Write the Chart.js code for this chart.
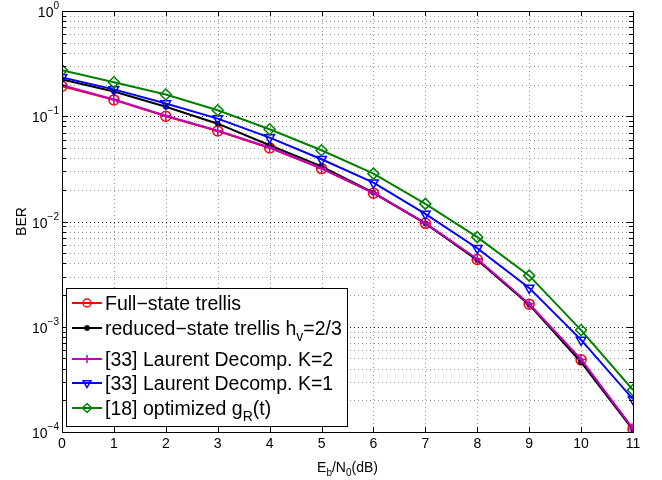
<!DOCTYPE html>
<html>
<head>
<meta charset="utf-8">
<title>BER vs Eb/N0</title>
<script src="https://cdn.jsdelivr.net/npm/chart.js@4.4.1/dist/chart.umd.min.js"></script>
<style>
  html, body { margin: 0; padding: 0; background: #fff; }
  #wrap { width: 662px; height: 480px; }
</style>
</head>
<body>
<div id="wrap"><canvas id="berChart" width="662" height="480"></canvas></div>
<script>
// Eb/N0 in dB
const ebN0 = [0, 1, 2, 3, 4, 5, 6, 7, 8, 9, 10, 11];

const berFullState = [0.193, 0.143, 0.100, 0.0725, 0.050, 0.0318, 0.0186, 0.0096, 0.00435, 0.00164, 0.000485, 0.000107];
const berReduced   = [0.224, 0.172, 0.123, 0.085, 0.053, 0.0334, 0.0188, 0.0096, 0.0043, 0.00162, 0.00046, 0.000105];
const berLaurentK2 = [0.197, 0.144, 0.101, 0.073, 0.0505, 0.032, 0.0187, 0.0096, 0.0044, 0.00165, 0.00049, 0.000107];
const berLaurentK1 = [0.233, 0.180, 0.132, 0.095, 0.0627, 0.039, 0.0234, 0.0118, 0.00557, 0.00234, 0.00075, 0.000205];
const berOptimized = [0.274, 0.210, 0.161, 0.114, 0.0752, 0.0475, 0.0285, 0.0147, 0.0071, 0.00306, 0.00093, 0.00025];

const xTicks = [0, 1, 2, 3, 4, 5, 6, 7, 8, 9, 10, 11];
const yDecades = [0, -1, -2, -3, -4];

// legend text: pieces are [text, "n" normal | "s" subscript]
const legendLabels = [
    [["Full\u2212state trellis", "n"]],
    [["reduced\u2212state trellis h", "n"], ["v", "s"], ["=2/3", "n"]],
    [["[33] Laurent Decomp. K=2", "n"]],
    [["[33] Laurent Decomp. K=1", "n"]],
    [["[18] optimized g", "n"], ["R", "s"], ["(t)", "n"]]
];

const FONT = "'Liberation Sans', Arial, Helvetica, sans-serif";

function pts(vals) {
    return ebN0.map((x, i) => ({ x: x, y: vals[i] }));
}

function series(vals, color, style, radius, rot, order) {
    return {
        data: pts(vals),
        borderColor: color,
        backgroundColor: color,
        borderWidth: 2,
        pointStyle: style,
        pointRadius: radius,
        pointRotation: rot,
        pointBorderColor: color,
        pointBackgroundColor: style === 'star' ? color : 'rgba(0,0,0,0)',
        pointBorderWidth: 1.5,
        order: order,
        tension: 0
    };
}

const datasets = [
    series(berFullState, '#ff0000', 'circle', 5, 0, 5),
    series(berReduced, '#000000', 'star', 3, 0, 4),
    series(berLaurentK2, '#bf00bf', 'cross', 5, 0, 3),
    series(berLaurentK1, '#0000ff', 'triangle', 5.5, 180, 2),
    series(berOptimized, '#008000', 'rectRot', 5.5, 0, 1)
];

function drawRich(ctx, pieces, x, y, size, subSize) {
    // y is the baseline of normal text
    let cx = x;
    pieces.forEach(p => {
        if (p[1] === 's') {
            ctx.font = subSize + "px " + FONT;
            ctx.fillText(p[0], cx, y + size * 0.3);
        } else {
            ctx.font = size + "px " + FONT;
            ctx.fillText(p[0], cx, y);
        }
        cx += ctx.measureText(p[0]).width;
    });
    return cx;
}

function richWidth(ctx, pieces, size, subSize) {
    let w = 0;
    pieces.forEach(p => {
        ctx.font = (p[1] === 's' ? subSize : size) + "px " + FONT;
        w += ctx.measureText(p[0]).width;
    });
    return w;
}

const gridPlugin = {
    id: 'matlabGrid',
    beforeDatasetsDraw(chart) {
        const ctx = chart.ctx;
        const a = chart.chartArea;
        const xs = chart.scales.x, ys = chart.scales.y;
        ctx.save();
        ctx.lineWidth = 1;
        ctx.setLineDash([1, 3]);
        // vertical grid
        ctx.strokeStyle = '#9a9a9a';
        xTicks.forEach(t => {
            const px = Math.round(xs.getPixelForValue(t)) + 0.5;
            ctx.beginPath(); ctx.moveTo(px, a.top); ctx.lineTo(px, a.bottom); ctx.stroke();
        });
        // horizontal grid, major and minor
        yDecades.forEach(d => {
            if (d === 0) return;
            for (let m = 1; m <= 9; m++) {
                const v = m * Math.pow(10, d);
                const py = Math.round(ys.getPixelForValue(v)) + 0.5;
                ctx.strokeStyle = m === 1 ? '#1a1a1a' : '#9a9a9a';
                ctx.beginPath(); ctx.moveTo(a.left, py); ctx.lineTo(a.right, py); ctx.stroke();
            }
        });
        ctx.restore();
    },
    afterDraw(chart) {
        const ctx = chart.ctx;
        const a = chart.chartArea;
        const xs = chart.scales.x, ys = chart.scales.y;
        ctx.save();
        ctx.setLineDash([]);
        ctx.strokeStyle = '#000';
        ctx.lineWidth = 1;
        // box
        ctx.strokeRect(Math.round(a.left) + 0.5, Math.round(a.top) + 0.5,
            Math.round(a.right - a.left), Math.round(a.bottom - a.top));

        // inward ticks
        ctx.beginPath();
        xTicks.forEach(t => {
            const px = Math.round(xs.getPixelForValue(t)) + 0.5;
            ctx.moveTo(px, a.bottom); ctx.lineTo(px, a.bottom - 5);
            ctx.moveTo(px, a.top); ctx.lineTo(px, a.top + 5);
        });
        yDecades.forEach(d => {
            for (let m = 1; m <= 9; m++) {
                if (d === 0 && m > 1) break;
                const v = m * Math.pow(10, d);
                const py = Math.round(ys.getPixelForValue(v)) + 0.5;
                const len = m === 1 ? 6 : 4;
                ctx.moveTo(a.left, py); ctx.lineTo(a.left + len, py);
                ctx.moveTo(a.right, py); ctx.lineTo(a.right - len, py);
            }
        });
        ctx.stroke();

        // tick labels
        ctx.fillStyle = '#000';
        ctx.font = "14px " + FONT;
        ctx.textAlign = 'center';
        ctx.textBaseline = 'alphabetic';
        xTicks.forEach(t => {
            ctx.fillText(String(t), xs.getPixelForValue(t), a.bottom + 16);
        });
        ctx.textAlign = 'left';
        yDecades.forEach(d => {
            const py = ys.getPixelForValue(Math.pow(10, d));
            const exp = d === 0 ? "0" : "\u2212" + (-d);
            ctx.font = "10px " + FONT;
            const ew = ctx.measureText(exp).width;
            const ex = a.left - 3 - ew;
            ctx.fillText(exp, ex, py - 2);
            ctx.font = "14px " + FONT;
            const bw = ctx.measureText("10").width;
            ctx.fillText("10", ex - bw, py + 6);
        });

        // axis titles
        const xTitle = [["E", "n"], ["b", "s"], ["/N", "n"], ["0", "s"], ["(dB)", "n"]];
        const tw = richWidth(ctx, xTitle, 14, 10);
        drawRich(ctx, xTitle, (a.left + a.right) / 2 - tw / 2, 472, 14, 10);

        ctx.save();
        ctx.translate(26, (a.top + a.bottom) / 2);
        ctx.rotate(-Math.PI / 2);
        ctx.textAlign = 'center';
        ctx.font = "14px " + FONT;
        ctx.fillText("BER", 0, 0);
        ctx.restore();

        // legend
        const lx = 66.5, ly = 288.5, lw = 281, lh = 138;
        ctx.fillStyle = '#fff';
        ctx.fillRect(lx, ly, lw, lh);
        ctx.strokeStyle = '#000';
        ctx.lineWidth = 1;
        ctx.strokeRect(lx, ly, lw, lh);
        const rowY = [303, 328, 359, 383, 408];
        legendLabels.forEach((pieces, i) => {
            const ds = chart.data.datasets[i];
            const y = rowY[i];
            ctx.strokeStyle = ds.borderColor;
            ctx.lineWidth = 2;
            ctx.beginPath(); ctx.moveTo(72, y); ctx.lineTo(102, y); ctx.stroke();
            ctx.fillStyle = ds.pointBackgroundColor;
            ctx.lineWidth = 1.5;
            Chart.helpers.drawPoint(ctx, {
                pointStyle: ds.pointStyle,
                radius: Math.max(3, ds.pointRadius - 1),
                rotation: ds.pointRotation,
                borderWidth: 1.5
            }, 87, y);
            ctx.fillStyle = '#000';
            ctx.textAlign = 'left';
            drawRich(ctx, pieces, 105, y + 7, 19.5, 14);
        });
        ctx.restore();
    }
};

new Chart(document.getElementById('berChart').getContext('2d'), {
    type: 'line',
    data: { datasets: datasets },
    options: {
        responsive: false,
        animation: false,
        events: [],
        layout: { padding: { left: 0, right: 29, top: 11, bottom: 0 } },
        plugins: { legend: { display: false }, tooltip: { enabled: false } },
        scales: {
            x: {
                type: 'linear', min: 0, max: 11,
                grid: { display: false }, border: { display: false },
                ticks: { display: false },
                afterFit: s => { s.height = 48; }
            },
            y: {
                type: 'logarithmic', min: 1e-4, max: 1,
                grid: { display: false }, border: { display: false },
                ticks: { display: false },
                afterFit: s => { s.width = 62; }
            }
        }
    },
    plugins: [gridPlugin]
});
</script>
</body>
</html>
